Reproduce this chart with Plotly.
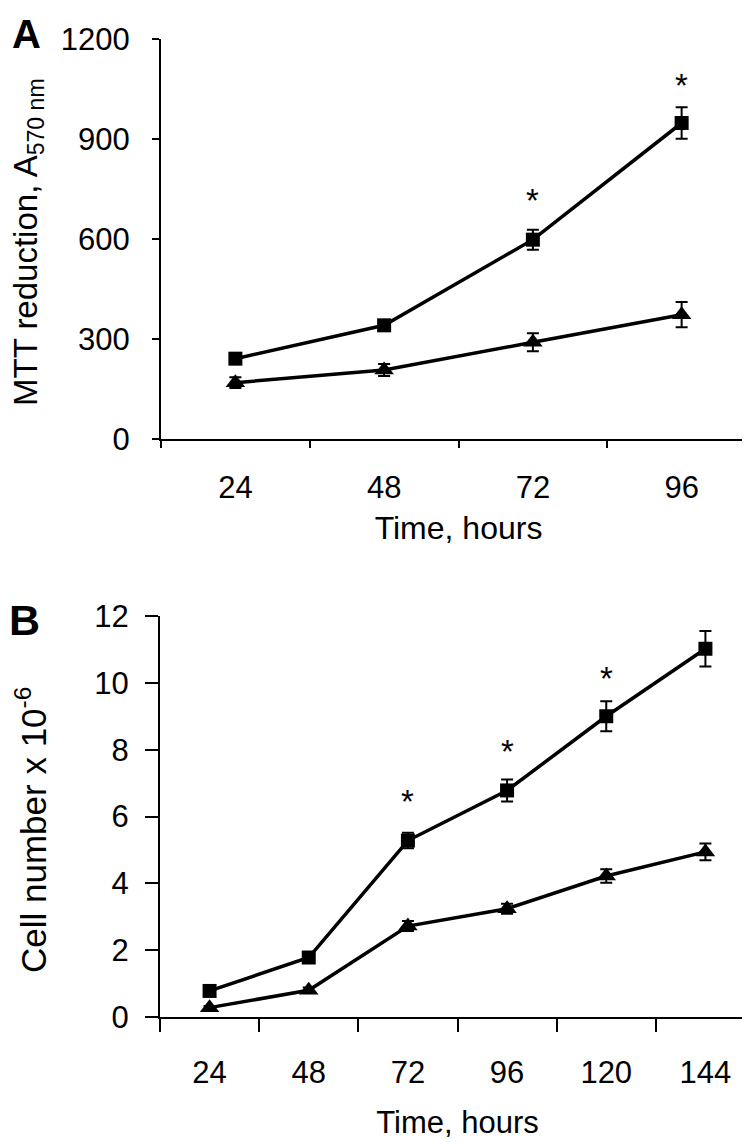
import plotly.graph_objects as go

# ---------------- data ----------------
hours_a = ["24", "48", "72", "96"]
mtt_square = [241, 341, 598, 948]
mtt_square_err = [8, 10, 30, 47]
mtt_triangle = [169, 207, 290, 373]
mtt_triangle_err = [16, 18, 27, 38]
star_a_x = ["72", "96"]
star_a_y = [721, 1067]

hours_b = ["24", "48", "72", "96", "120", "144"]
cell_square = [0.78, 1.78, 5.28, 6.78, 9.0, 11.02]
cell_square_err = [0.1, 0.1, 0.23, 0.33, 0.45, 0.53]
cell_triangle = [0.28, 0.8, 2.72, 3.24, 4.22, 4.94]
cell_triangle_err = [0.05, 0.08, 0.15, 0.15, 0.2, 0.25]
star_b_x = ["72", "96", "120", "144"]
star_b_y = [6.5, 8.0, 10.2, 12.28]

FONT = "Liberation Sans, Arial, sans-serif"
W, H = 750, 1142

fig = go.Figure()


def add_series(x, y, err, symbol, size, xa, ya):
    fig.add_trace(go.Scatter(
        x=x, y=y, xaxis=xa, yaxis=ya, mode="lines+markers",
        line=dict(color="black", width=3.5),
        marker=dict(symbol=symbol, size=size, color="black"),
        error_y=dict(type="data", array=err, visible=True, color="black",
                     thickness=2, width=6),
        showlegend=False, cliponaxis=False,
    ))


add_series(hours_a, mtt_square, mtt_square_err, "square", 14, "x", "y")
add_series(hours_a, mtt_triangle, mtt_triangle_err, "triangle-up", 17, "x", "y")
add_series(hours_b, cell_square, cell_square_err, "square", 14, "x2", "y2")
add_series(hours_b, cell_triangle, cell_triangle_err, "triangle-up", 17, "x2", "y2")

annotations = []
for sx, sy in zip(star_a_x, star_a_y):
    annotations.append(dict(x=hours_a.index(sx), y=sy, xref="x", yref="y",
                            text="*", showarrow=False, yshift=-2,
                            font=dict(family=FONT, size=33, color="black")))
for sx, sy in zip(star_b_x, star_b_y):
    annotations.append(dict(x=hours_b.index(sx), y=sy, xref="x2", yref="y2",
                            text="*", showarrow=False, yshift=-2,
                            font=dict(family=FONT, size=33, color="black")))

# panel letters
annotations.append(dict(x=18 / W, y=1 - 26 / H, xref="paper", yref="paper",
                        xanchor="center", yanchor="middle",
                        text="<b>A</b>", showarrow=False,
                        font=dict(family=FONT, size=40, color="black")))
annotations.append(dict(x=16 / W, y=1 - 612 / H, xref="paper", yref="paper",
                        xanchor="center", yanchor="middle",
                        text="<b>B</b>", showarrow=False,
                        font=dict(family=FONT, size=43, color="black")))

# y-axis titles (rotated)
annotations.append(dict(x=20 / W, y=1 - 234 / H, xref="paper", yref="paper",
                        xanchor="center", yanchor="middle", textangle=-90,
                        text="MTT reduction, A<sub>570 nm</sub>", showarrow=False,
                        font=dict(family=FONT, size=33, color="black")))
annotations.append(dict(x=23 / W, y=1 - 822 / H, xref="paper", yref="paper",
                        xanchor="center", yanchor="middle", textangle=-90,
                        text="Cell number x 10<sup>-6</sup>", showarrow=False,
                        font=dict(family=FONT, size=35, color="black")))

axis_common = dict(showline=True, linecolor="black", linewidth=2,
                   ticks="outside", tickcolor="black", tickwidth=2,
                   showgrid=False, zeroline=False, automargin=False,
                   tickfont=dict(family=FONT, size=31, color="black"))

fig.update_layout(
    width=W, height=H, autosize=False,
    margin=dict(l=0, r=0, t=0, b=0, pad=0, autoexpand=False),
    paper_bgcolor="white", plot_bgcolor="white",
    annotations=annotations,
    xaxis=dict(**axis_common, type="category", categoryorder="array",
               categoryarray=hours_a, tickson="boundaries", ticklen=7,
               range=[-0.5, 3.5], domain=[153 / W, 748 / W], anchor="y",
               ticklabelstandoff=20,
               title=dict(text="Time, hours", standoff=12,
                          font=dict(family=FONT, size=32, color="black"))),
    yaxis=dict(**axis_common, range=[0, 1200], tick0=0, dtick=300, ticklen=7,
               domain=[1 - 431 / H, 1 - 31 / H], anchor="x",
               ticklabelstandoff=16),
    xaxis2=dict(**axis_common, type="category", categoryorder="array",
                categoryarray=hours_b, tickson="boundaries", ticklen=13,
                range=[-0.5, 5.5], domain=[152 / W, 747 / W], anchor="y2",
                ticklabelstandoff=27,
                title=dict(text="Time, hours", standoff=22,
                           font=dict(family=FONT, size=31, color="black"))),
    yaxis2=dict(**axis_common, range=[0, 12], tick0=0, dtick=2, ticklen=13,
                domain=[1 - 1009 / H, 1 - 608 / H], anchor="x2",
                ticklabelstandoff=10),
)

fig.write_html("out.html")
